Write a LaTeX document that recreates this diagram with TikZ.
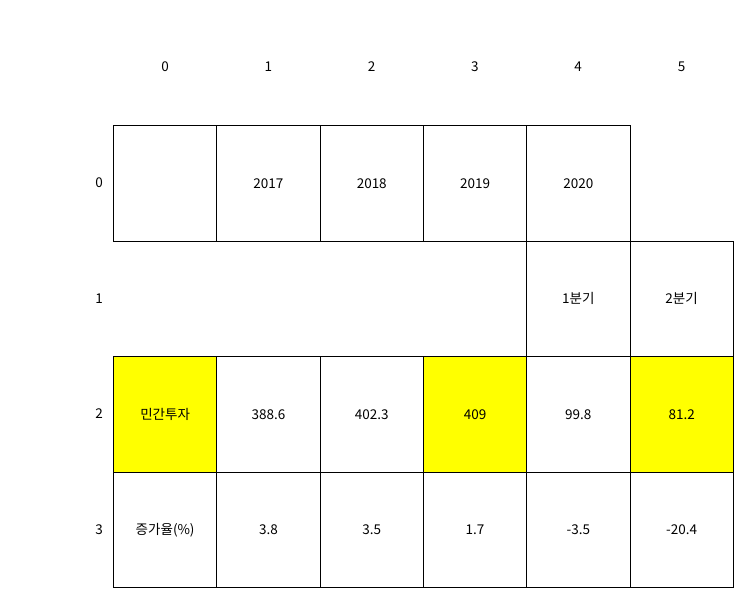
\documentclass[tikz,border=0pt]{standalone}
\usepackage{fontspec}
\setmainfont{Noto Sans CJK KR}
\usepackage{tikz}
\usetikzlibrary{positioning}
\definecolor{hiyellow}{RGB}{255,255,0}
\tikzset{
	cellbox/.style={draw=black, line width=1pt, minimum width=103.3pt, minimum height=115.5pt, inner sep=0pt, anchor=north west},
	hicell/.style={cellbox, fill=hiyellow},
	idxlabel/.style={inner sep=0pt}
}
% cell: name, column, row, style, text
\newcommand{\tabcell}[5]{
	\node[#4] (#1) at ({113+103.3*#2}, {125+115.5*#3}) {};
	\node at (#1.center) {#5};
}

\begin{document}
\begin{tikzpicture}[x=1pt, y=-1pt, font=\fontsize{13.5}{15}\selectfont]
				\useasboundingbox (0,0) rectangle (743,597);
				% column and row indices
				\foreach \c in {0,...,5}
					\node[idxlabel] (col\c) at ({165+103.3*\c}, 67) {\c};
				\foreach \r in {0,...,3}
					\node[idxlabel] (row\r) at (99, {183+115.5*\r}) {\r};
				% row 0
				\tabcell{c00}{0}{0}{cellbox}{}
				\tabcell{c01}{1}{0}{cellbox}{2017}
				\tabcell{c02}{2}{0}{cellbox}{2018}
				\tabcell{c03}{3}{0}{cellbox}{2019}
				\tabcell{c04}{4}{0}{cellbox}{2020}
				% row 1
				\tabcell{c14}{4}{1}{cellbox}{1분기}
				\tabcell{c15}{5}{1}{cellbox}{2분기}
				% row 2
				\tabcell{c20}{0}{2}{hicell}{민간투자}
				\tabcell{c21}{1}{2}{cellbox}{388.6}
				\tabcell{c22}{2}{2}{cellbox}{402.3}
				\tabcell{c23}{3}{2}{hicell}{409}
				\tabcell{c24}{4}{2}{cellbox}{99.8}
				\tabcell{c25}{5}{2}{hicell}{81.2}
				% row 3
				\tabcell{c30}{0}{3}{cellbox}{증가율(\%)}
				\tabcell{c31}{1}{3}{cellbox}{3.8}
				\tabcell{c32}{2}{3}{cellbox}{3.5}
				\tabcell{c33}{3}{3}{cellbox}{1.7}
				\tabcell{c34}{4}{3}{cellbox}{-3.5}
				\tabcell{c35}{5}{3}{cellbox}{-20.4}
\end{tikzpicture}
\end{document}
